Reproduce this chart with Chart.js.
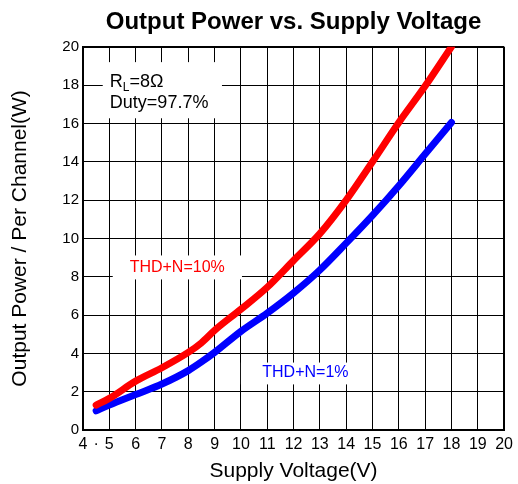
<!DOCTYPE html>
<html>
<head>
<meta charset="utf-8">
<script src="https://cdn.jsdelivr.net/npm/chart.js@4"></script>
<style>
  html, body { margin: 0; padding: 0; background: #fff; }
  #wrap { width: 518px; height: 484px; }
</style>
</head>
<body>
<div id="wrap"><canvas id="chart" width="518" height="484"></canvas></div>
<script>
// values
const voltage = [4.5, 5, 6, 7, 8, 8.5, 9, 10, 11, 12, 13, 14, 15, 16, 17, 18];
const thd10 = [1.3, 1.65, 2.55, 3.25, 4.05, 4.55, 5.2, 6.3, 7.45, 8.85, 10.25, 12.0, 14.0, 16.05, 17.95, 20.0];
const thd1 = [1.0, 1.3, 1.85, 2.4, 3.1, 3.55, 4.05, 5.15, 6.1, 7.15, 8.35, 9.75, 11.2, 12.75, 14.4, 16.05];
const xTicks = [4, 4.5, 5, 6, 7, 8, 9, 10, 11, 12, 13, 14, 15, 16, 17, 18, 19, 20];
const yTicks = [0, 2, 4, 6, 8, 10, 12, 14, 16, 18, 20];

const FONT = 'Liberation Sans, Arial, sans-serif';

// text boxes placed in data units
const notes = [
  { box: [4.75, 9.28, 19.2, 16.27], lines: [
      { x: 5.02, y: 18.15, parts: [['R', 18, 0], ['L', 12, 5], ['=8Ω', 18, 0]], color: '#000', align: 'left' },
      { x: 5.02, y: 17.05, parts: [['Duty=97.7%', 18, 0]], color: '#000', align: 'left' }
  ]},
  { box: [5.13, 10.04, 9.11, 7.86], lines: [
      { x: 7.58, y: 8.49, parts: [['THD+N=10%', 16, 0]], color: '#ff0000', align: 'center' }
  ]},
  { box: [10.0, 14.9, 3.52, 2.38], lines: [
      { x: 12.45, y: 3.0, parts: [['THD+N=1%', 16, 0]], color: '#0000ff', align: 'center' }
  ]}
];

const notesPlugin = {
  id: 'notes',
  beforeDatasetsDraw(chart) {
    const { ctx, scales: { x, y } } = chart;
    ctx.save();
    notes.forEach(n => {
      const x0 = x.getPixelForValue(n.box[0]), x1 = x.getPixelForValue(n.box[1]);
      const y0 = y.getPixelForValue(n.box[2]), y1 = y.getPixelForValue(n.box[3]);
      ctx.fillStyle = '#fff';
      ctx.fillRect(x0, y0, x1 - x0, y1 - y0);
      n.lines.forEach(l => {
        let w = 0;
        l.parts.forEach(p => { ctx.font = p[1] + 'px ' + FONT; w += ctx.measureText(p[0]).width; });
        let px = x.getPixelForValue(l.x);
        if (l.align === 'center') px -= w / 2;
        const py = y.getPixelForValue(l.y);
        ctx.fillStyle = l.color;
        ctx.textBaseline = 'middle';
        ctx.textAlign = 'left';
        l.parts.forEach(p => {
          ctx.font = p[1] + 'px ' + FONT;
          ctx.fillText(p[0], px, py + p[2]);
          px += ctx.measureText(p[0]).width;
        });
      });
    });
    ctx.restore();
  }
};

new Chart(document.getElementById('chart').getContext('2d'), {
  type: 'line',
  data: {
    labels: voltage,
    datasets: [
      { label: 'THD+N=10%', data: thd10, borderColor: '#ff0000', borderWidth: 7 },
      { label: 'THD+N=1%', data: thd1, borderColor: '#0000ff', borderWidth: 7 }
    ]
  },
  options: {
    responsive: false,
    animation: false,
    layout: { padding: { left: 0, right: 11, top: 0, bottom: 0 } },
    elements: {
      point: { radius: 0 },
      line: { cubicInterpolationMode: 'monotone', borderCapStyle: 'round', borderJoinStyle: 'round' }
    },
    plugins: {
      legend: { display: false },
      tooltip: { enabled: false },
      title: {
        display: true,
        text: 'Output Power vs. Supply Voltage',
        color: '#000',
        fullSize: false,
        font: { family: FONT, size: 24, weight: 'bold' },
        padding: { top: 8, bottom: 10 }
      }
    },
    scales: {
      x: {
        type: 'linear',
        min: 4, max: 20,
        afterBuildTicks: axis => { axis.ticks = xTicks.map(v => ({ value: v })); },
        afterFit: s => { s.height = 54; },
        ticks: {
          autoSkip: false, maxRotation: 0, padding: 5, color: '#000',
          font: { family: FONT, size: 16 },
          callback: v => v === 4.5 ? '·' : v
        },
        grid: {
          drawTicks: false,
          color: c => c.tick && c.tick.value === 4.5 ? 'rgba(0,0,0,0)' : '#000',
          lineWidth: c => c.tick && c.tick.value === 20 ? 2 : 1
        },
        border: { color: '#000', width: 2 },
        title: {
          display: true, text: 'Supply Voltage(V)', color: '#000',
          font: { family: FONT, size: 21 }, padding: { top: 6, bottom: 0 }
        }
      },
      y: {
        min: 0, max: 20,
        afterBuildTicks: axis => { axis.ticks = yTicks.map(v => ({ value: v })); },
        afterFit: s => { s.width = 83; },
        ticks: { padding: 4, color: '#000', font: { family: FONT, size: 15 } },
        grid: {
          drawTicks: false,
          color: '#000',
          lineWidth: c => c.tick && c.tick.value === 20 ? 2 : 1
        },
        border: { color: '#000', width: 2 },
        title: {
          display: true, text: 'Output Power / Per Channel(W)', color: '#000',
          font: { family: FONT, size: 21 }, padding: { top: 8, bottom: 0 }
        }
      }
    }
  },
  plugins: [notesPlugin]
});
</script>
</body>
</html>
